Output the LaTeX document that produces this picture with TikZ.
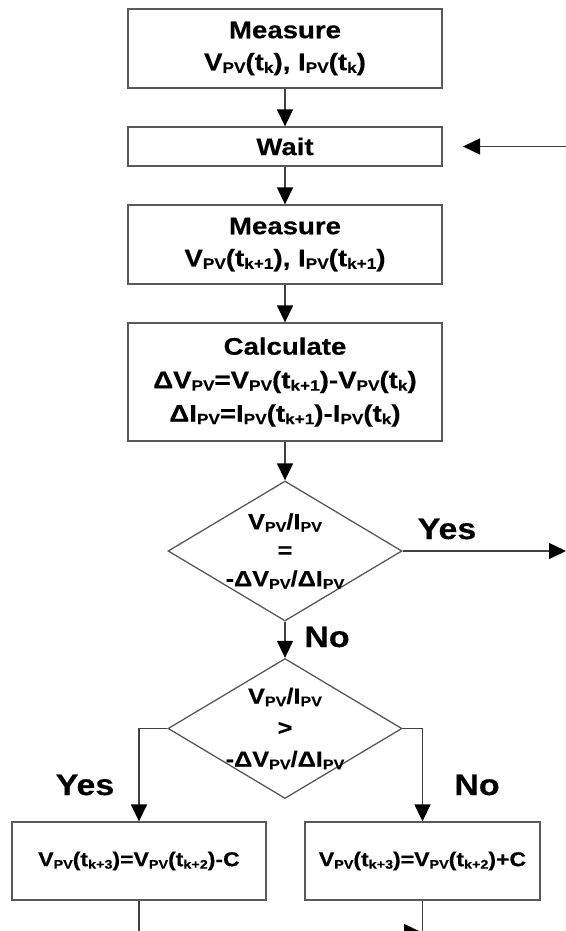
\documentclass[tikz,border=0pt]{standalone}
\usepackage{fontspec}
\setmainfont{Liberation Sans}[FakeStretch=1.15,BoldFeatures={FakeBold=0.4}]
\usepackage{tikz}
\usetikzlibrary{shapes.geometric,arrows.meta,positioning}

% lowered small text for the subscripts
\def\subsz{15}
\newcommand{\lo}[1]{\raisebox{-2.5pt}{\fontsize{\subsz}{\subsz}\selectfont #1}}

\begin{document}
\begin{tikzpicture}[x=1pt,y=-1pt,
  box/.style={draw=black!65,line width=1.3pt,minimum width=314pt,inner sep=0pt,align=center,
    font=\fontsize{24}{32}\selectfont\bfseries},
  check/.style={diamond,draw=black!65,line width=1.3pt,minimum width=234pt,minimum height=140pt,inner sep=0pt},
  cond/.style={align=center,inner sep=0pt},
  flow/.style={draw=black!75,line width=1.4pt,-{Triangle[length=17pt,width=16pt,black]}},
  line/.style={draw=black!75,line width=1.4pt},
  answer/.style={inner sep=0pt,font=\fontsize{29.5}{29.5}\selectfont\bfseries}]
\useasboundingbox[fill=white] (0,0) rectangle (565,931);

% Process boxes
\node[box,minimum height=79pt] (meas1) at (285,48.5) {Measure\\V\lo{PV}(t\lo{k}), I\lo{PV}(t\lo{k})};
\node[box,minimum height=39pt] (wait) at (285,146.5) {Wait};
\node[box,minimum height=79pt] (meas2) at (285,244.5) {Measure\\V\lo{PV}(t\lo{k+1}), I\lo{PV}(t\lo{k+1})};
\node[box,minimum height=118pt,font=\fontsize{24}{33.5}\selectfont\bfseries] (calc) at (285,382)
  {Calculate\\ΔV\lo{PV}=V\lo{PV}(t\lo{k+1})-V\lo{PV}(t\lo{k})\\ΔI\lo{PV}=I\lo{PV}(t\lo{k+1})-I\lo{PV}(t\lo{k})};

% Decisions
\node[check] (check1) at (285,551) {};
\node[cond,font=\fontsize{22}{28.5}\selectfont\bfseries\def\subsz{14}] (cond1) at (check1) {V\lo{PV}/I\lo{PV}\\=\\-ΔV\lo{PV}/ΔI\lo{PV}};
\node[check] (check2) at (285,728.5) {};
\node[cond,font=\fontsize{22}{31.5}\selectfont\bfseries\def\subsz{14}] (cond2) at (check2) {V\lo{PV}/I\lo{PV}\\>\\-ΔV\lo{PV}/ΔI\lo{PV}};

% Update boxes
\node[box,minimum width=254pt,minimum height=78pt,font=\fontsize{20}{24}\selectfont\bfseries\def\subsz{12.5}] (dec) at (139,861)
  {V\lo{PV}(t\lo{k+3})=V\lo{PV}(t\lo{k+2})-C};
\node[box,minimum width=235pt,minimum height=78pt,font=\fontsize{20}{24}\selectfont\bfseries\def\subsz{12.5}] (inc) at (422.5,861)
  {V\lo{PV}(t\lo{k+3})=V\lo{PV}(t\lo{k+2})+C};

% Answers
\node[answer] (yes1) at (447,529) {Yes};
\node[answer] (no1) at (327,637) {No};
\node[answer] (yes2) at (85,785) {Yes};
\node[answer] (no2) at (477,785) {No};

% Free ends
\coordinate (loopin) at (575,146.5);
\coordinate (waitin) at (463,146.5);
\coordinate (yesout) at (566,551);
\coordinate (joinL) at (139,932);
\coordinate (joinR) at (421,932);
\coordinate (down) at (422.5,960);

% Connectors
\draw[flow] (meas1) -- (wait);
\draw[flow] (wait) -- (meas2);
\draw[flow] (meas2) -- (calc);
\draw[flow] (calc) -- (check1);
\draw[flow] (check1) -- (check2);
\draw[flow] (loopin) -- (waitin);
\draw[flow] (check1.east) -- (yesout);
\draw[flow] (check2.west) -| (dec.north);
\draw[flow] (check2.east) -| (inc.north);
\draw[line] (dec.south) -- (joinL);
\draw[flow] (joinL) -- (joinR);
\draw[line] (inc.south) -- (down);
\end{tikzpicture}
\end{document}
